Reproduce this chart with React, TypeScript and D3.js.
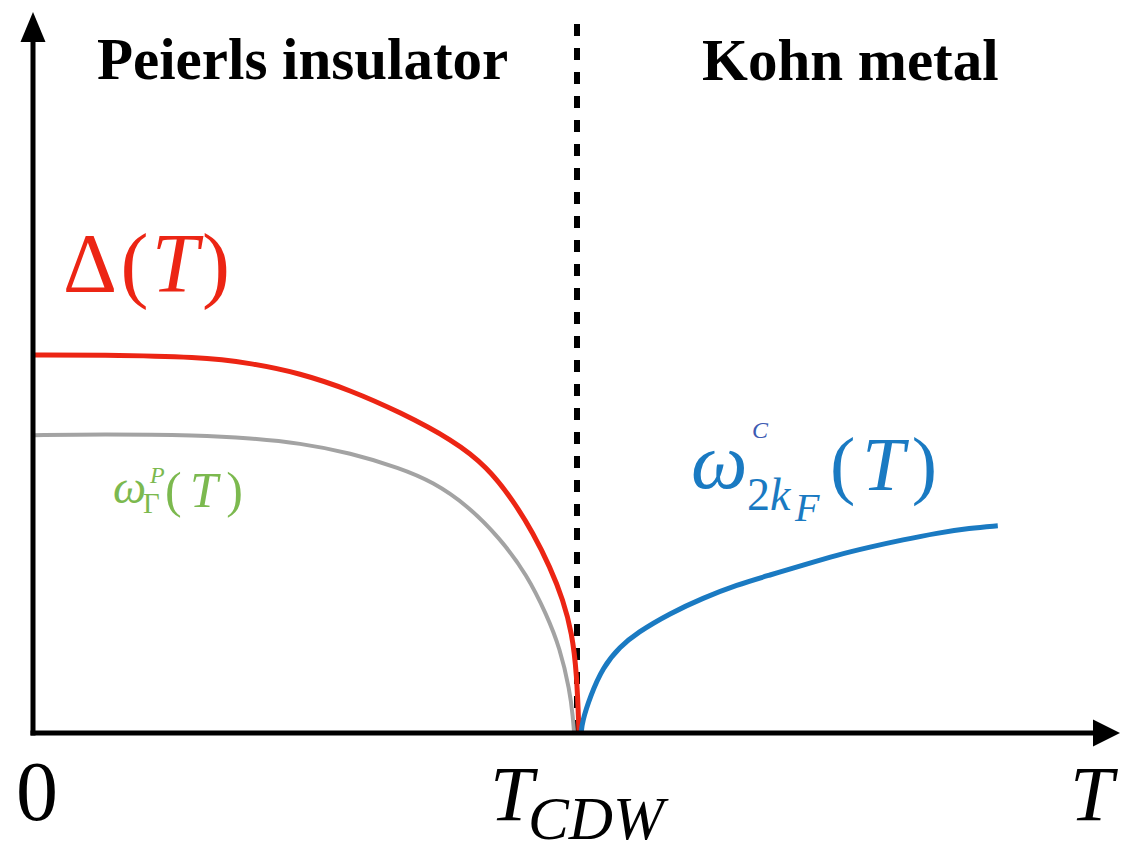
import React from "react";
import * as d3 from "d3";

// Temperature in units of T_CDW, amplitude in units of Δ(0)
const gapT = [0, 0.123, 0.306, 0.397, 0.489, 0.581, 0.672, 0.769, 0.832, 0.879, 0.916, 0.947, 0.971, 0.987, 0.996, 1.0];
const gapV = [1.0, 1.0, 0.995, 0.979, 0.952, 0.907, 0.849, 0.775, 0.704, 0.616, 0.529, 0.439, 0.352, 0.265, 0.159, 0.0];

const phononGammaT = [0, 0.123, 0.306, 0.397, 0.489, 0.581, 0.672, 0.733, 0.795, 0.855, 0.905, 0.941, 0.965, 0.983, 0.989, 0.991];
const phononGammaV = [0.788, 0.791, 0.788, 0.78, 0.767, 0.741, 0.701, 0.664, 0.603, 0.516, 0.418, 0.312, 0.225, 0.114, 0.04, 0.0];

const kohnT = [1.004, 1.006, 1.02, 1.044, 1.075, 1.106, 1.167, 1.227, 1.289, 1.35, 1.41, 1.473, 1.533, 1.593, 1.656, 1.716, 1.767];
const kohnV = [0.0, 0.03, 0.095, 0.175, 0.228, 0.265, 0.317, 0.357, 0.392, 0.418, 0.444, 0.471, 0.492, 0.511, 0.529, 0.542, 0.548];

const regionLabels = ["Peierls insulator", "Kohn metal"];

const W = 1122;
const H = 844;
const x0 = 33;
const y0 = 733;

const x = d3.scaleLinear().domain([0, 1]).range([x0, 579]);
const y = d3.scaleLinear().domain([0, 1]).range([y0, 355]);

function pathOf(ts: number[], vs: number[]) {
  const gen = d3
    .line<[number, number]>()
    .x((d) => x(d[0]))
    .y((d) => y(d[1]))
    .curve(d3.curveBasis);
  return gen(ts.map((t, i) => [t, vs[i]] as [number, number])) || "";
}

const serif = "'Liberation Serif', 'Times New Roman', serif";

export default function App() {
  const tc = x(1) - 2;
  return (
    <svg
      width={W}
      height={H}
      viewBox={`0 0 ${W} ${H}`}
      style={{ position: "absolute", left: 0, top: 0, background: "#fff" }}
    >
      {/* phase boundary */}
      <line x1={tc} x2={tc} y1={24} y2={y0} stroke="#000" strokeWidth={6} strokeDasharray="12 12" />

      {/* curves */}
      <path d={pathOf(phononGammaT, phononGammaV)} fill="none" stroke="#a3a3a3" strokeWidth={4} />
      <path d={pathOf(gapT, gapV)} fill="none" stroke="#ec2514" strokeWidth={5} />
      <path d={pathOf(kohnT, kohnV)} fill="none" stroke="#1a7ac2" strokeWidth={5} />

      {/* axes */}
      <line x1={x0} x2={x0} y1={y0 + 2.5} y2={38} stroke="#000" strokeWidth={5} />
      <polygon points={`${x0},12 ${x0 - 12.5},42 ${x0 + 12.5},42`} fill="#000" />
      <line x1={x0 - 2.5} x2={1096} y1={y0} y2={y0} stroke="#000" strokeWidth={5} />
      <polygon points={`1120,${y0} 1093,${y0 - 13.5} 1093,${y0 + 13.5}`} fill="#000" />

      {/* region titles */}
      <text x={97} y={79} fontFamily={serif} fontWeight="bold" fontSize={59} fill="#000">
        {regionLabels[0]}
      </text>
      <text x={702} y={80} fontFamily={serif} fontWeight="bold" fontSize={59} fill="#000">
        {regionLabels[1]}
      </text>

      {/* Δ(T) */}
      <text x={63} y={292} fontFamily={serif} fontSize={84} fill="#ec2514" textLength={167} lengthAdjust="spacing">
        <tspan>Δ(</tspan>
        <tspan fontStyle="italic">T</tspan>
        <tspan>)</tspan>
      </text>

      {/* ω_Γ^P(T) */}
      <g fontFamily={serif} fill="#7cb94f">
        <text x={113} y={503} fontSize={47} fontStyle="italic">ω</text>
        <text x={143} y={513} fontSize={29}>Γ</text>
        <text x={150} y={483} fontSize={24} fontStyle="italic">P</text>
        <text x={165} y={507} fontSize={50} textLength={78} lengthAdjust="spacing">
          <tspan>(</tspan>
          <tspan fontStyle="italic">T</tspan>
          <tspan>)</tspan>
        </text>
      </g>

      {/* ω_{2k_F}^C(T) */}
      <g fontFamily={serif} fill="#1a7ac2">
        <text x={691} y={488} fontSize={80} fontStyle="italic">ω</text>
        <text x={747} y={510} fontSize={46}>2</text>
        <text x={770} y={510} fontSize={46} fontStyle="italic">k</text>
        <text x={795} y={521} fontSize={40} fontStyle="italic">F</text>
        <text x={752} y={438} fontSize={24} fontStyle="italic" fill="#3d5bb2">C</text>
        <text x={830} y={490} fontSize={76} textLength={107} lengthAdjust="spacing">
          <tspan>(</tspan>
          <tspan fontStyle="italic">T</tspan>
          <tspan>)</tspan>
        </text>
      </g>

      {/* axis labels */}
      <text x={37} y={820} textAnchor="middle" fontFamily={serif} fontSize={84} fill="#000">
        0
      </text>
      <text x={490} y={820} fontFamily={serif} fontSize={78} fontStyle="italic" fill="#000">
        T
      </text>
      <text
        x={528}
        y={839}
        fontFamily={serif}
        fontSize={62}
        fontStyle="italic"
        fill="#000"
        textLength={136}
        lengthAdjust="spacingAndGlyphs"
      >
        CDW
      </text>
      <text x={1070} y={820} fontFamily={serif} fontSize={78} fontStyle="italic" fill="#000">
        T
      </text>
    </svg>
  );
}
